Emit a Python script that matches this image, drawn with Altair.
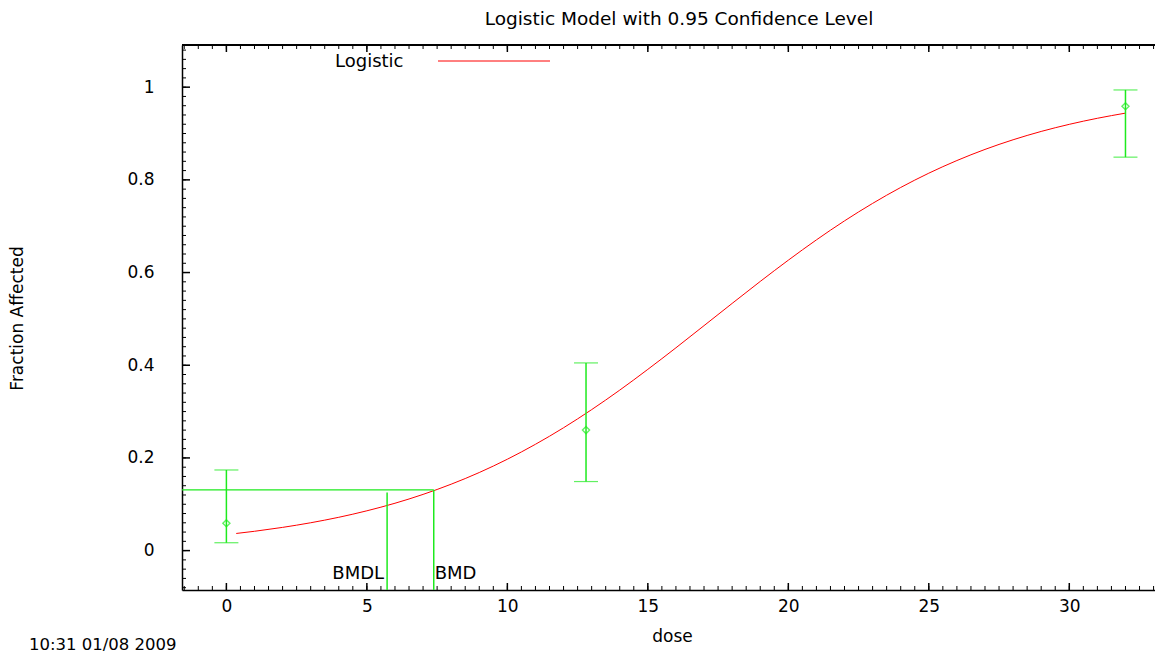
import altair as alt
import pandas as pd

# ---- data ----
obs_dose = [0.0, 12.8, 32.0]
obs_mean = [0.059, 0.260, 0.959]
obs_lo = [0.017, 0.149, 0.849]
obs_hi = [0.174, 0.405, 0.994]

curve_dose = [0.35, 1, 2, 3, 4, 5, 6, 7, 8, 9, 10, 11, 12, 13, 14, 15, 16,
              17, 18, 19, 20, 21, 22, 23, 24, 25, 26, 27, 28, 29, 30, 31, 32]
curve_frac = [0.037, 0.0417, 0.0501, 0.0601, 0.0719, 0.0859, 0.1022, 0.1213,
              0.1433, 0.1685, 0.1972, 0.2294, 0.2651, 0.3042, 0.3463, 0.3911,
              0.4376, 0.4854, 0.5334, 0.5808, 0.6267, 0.6705, 0.7115, 0.7492,
              0.7836, 0.8144, 0.8417, 0.8657, 0.8865, 0.9045, 0.9198, 0.9329,
              0.9440]

bmd = 7.38
bmdl = 5.72
bmr_level = 0.131
bmdl_top = 0.1255

x_labels = [0, 5, 10, 15, 20, 25, 30]
y_labels = [0, 0.2, 0.4, 0.6, 0.8, 1.0]
x_minor = [i * 0.5 for i in range(-3, 67)]
y_minor = [round(i * 0.02, 2) for i in range(-4, 55)]

XDOM = [-1.58, 33.3]
YDOM = [-0.085, 1.091]
W, H = 980, 545
FONT = "DejaVu Sans"
GREEN = "#1eea1e"

xs = alt.Scale(domain=XDOM, nice=False, zero=False)
ys = alt.Scale(domain=YDOM, nice=False, zero=False)

obs = pd.DataFrame({"dose": obs_dose, "mean": obs_mean, "lo": obs_lo, "hi": obs_hi})
curve = pd.DataFrame({"dose": curve_dose, "frac": curve_frac})
xmaj = pd.DataFrame({"v": x_labels})
xmin = pd.DataFrame({"v": x_minor})
ymaj = pd.DataFrame({"v": y_labels})
ymin = pd.DataFrame({"v": y_minor})

base = alt.Chart(curve).mark_line(color="#ff0000", strokeWidth=1, interpolate="monotone").encode(
    x=alt.X("dose:Q", scale=xs,
            axis=alt.Axis(values=x_labels, ticks=False, grid=False, title="dose",
                          labelFont=FONT, labelFontSize=17, labelColor="black",
                          labelPadding=8, domainColor="black", domainWidth=1.5,
                          titleFont=FONT, titleFontSize=17, titleFontWeight="normal",
                          titleColor="black", titleY=46, titleBaseline="middle")),
    y=alt.Y("frac:Q", scale=ys,
            axis=alt.Axis(values=y_labels, format="~g", ticks=False, grid=False,
                          title="Fraction Affected",
                          labelFont=FONT, labelFontSize=17, labelColor="black",
                          labelPadding=28, domainColor="black", domainWidth=1.5,
                          titleFont=FONT, titleFontSize=17, titleFontWeight="normal",
                          titleColor="black", titleAngle=270, titleX=-165, titleY=273,
                          titleAlign="center", titleBaseline="middle")),
)

top_line = alt.Chart(xmaj).mark_rule(color="black", strokeWidth=1.5).encode(
    x=alt.value(0), x2=alt.value(W), y=alt.value(0))

xt_top_min = alt.Chart(xmin).mark_rule(color="black", strokeWidth=1).encode(
    x=alt.X("v:Q", scale=xs), y=alt.value(0), y2=alt.value(4))
xt_top_maj = alt.Chart(xmaj).mark_rule(color="black", strokeWidth=1.5).encode(
    x=alt.X("v:Q", scale=xs), y=alt.value(0), y2=alt.value(7))
xt_bot_min = alt.Chart(xmin).mark_rule(color="black", strokeWidth=1).encode(
    x=alt.X("v:Q", scale=xs), y=alt.value(H), y2=alt.value(H - 4))
xt_bot_maj = alt.Chart(xmaj).mark_rule(color="black", strokeWidth=1.5).encode(
    x=alt.X("v:Q", scale=xs), y=alt.value(H), y2=alt.value(H - 7))
yt_min = alt.Chart(ymin).mark_rule(color="black", strokeWidth=1).encode(
    y=alt.Y("v:Q", scale=ys), x=alt.value(0), x2=alt.value(4))
yt_maj = alt.Chart(ymaj).mark_rule(color="black", strokeWidth=1.5).encode(
    y=alt.Y("v:Q", scale=ys), x=alt.value(0), x2=alt.value(8))

ebar = alt.Chart(obs).mark_rule(color=GREEN, strokeWidth=1.5).encode(
    x=alt.X("dose:Q", scale=xs), y=alt.Y("lo:Q", scale=ys), y2="hi:Q")
cap_lo = alt.Chart(obs).mark_tick(color=GREEN, orient="horizontal", size=24, thickness=1.2).encode(
    x=alt.X("dose:Q", scale=xs), y=alt.Y("lo:Q", scale=ys))
cap_hi = alt.Chart(obs).mark_tick(color=GREEN, orient="horizontal", size=24, thickness=1.2).encode(
    x=alt.X("dose:Q", scale=xs), y=alt.Y("hi:Q", scale=ys))
pts = alt.Chart(obs).mark_point(color=GREEN, shape="diamond", filled=False, size=50, strokeWidth=1.4).encode(
    x=alt.X("dose:Q", scale=xs), y=alt.Y("mean:Q", scale=ys))

bmd_df = pd.DataFrame({"x0": [XDOM[0]], "x1": [bmd], "y": [bmr_level]})
hline = alt.Chart(bmd_df).mark_rule(color=GREEN, strokeWidth=1.3).encode(
    x=alt.X("x0:Q", scale=xs), x2="x1:Q", y=alt.Y("y:Q", scale=ys))
vl_df = pd.DataFrame({"x": [bmdl, bmd], "y0": [YDOM[0], YDOM[0]], "y1": [bmdl_top, bmr_level]})
vlines = alt.Chart(vl_df).mark_rule(color=GREEN, strokeWidth=1.5).encode(
    x=alt.X("x:Q", scale=xs), y=alt.Y("y0:Q", scale=ys), y2="y1:Q")
lab_df = pd.DataFrame({"x": [bmdl], "t": ["BMDL"]})
lab_df2 = pd.DataFrame({"x": [bmd], "t": ["BMD"]})
bmdl_txt = alt.Chart(lab_df).mark_text(font=FONT, fontSize=18, align="right", baseline="middle", dx=-3, color="black").encode(
    x=alt.X("x:Q", scale=xs), y=alt.value(529), text="t:N")
bmd_txt = alt.Chart(lab_df2).mark_text(font=FONT, fontSize=18, align="left", baseline="middle", dx=1, color="black").encode(
    x=alt.X("x:Q", scale=xs), y=alt.value(529), text="t:N")

leg_txt = alt.Chart(pd.DataFrame({"t": ["Logistic"]})).mark_text(
    font=FONT, fontSize=18, align="left", baseline="middle", color="black").encode(
    x=alt.value(153), y=alt.value(17), text="t:N")
leg_line = alt.Chart(pd.DataFrame({"t": ["Logistic"]})).mark_rule(color="#ff0000", strokeWidth=1).encode(
    x=alt.value(256), x2=alt.value(368), y=alt.value(16))

title_txt = alt.Chart(pd.DataFrame({"t": ["Logistic Model with 0.95 Confidence Level"]})).mark_text(
    font=FONT, fontSize=18.5, align="center", baseline="middle", color="black").encode(
    x=alt.value(497), y=alt.value(-26), text="t:N")
stamp_txt = alt.Chart(pd.DataFrame({"t": ["10:31 01/08 2009"]})).mark_text(
    font=FONT, fontSize=16.5, align="left", baseline="middle", color="black").encode(
    x=alt.value(-153), y=alt.value(600), text="t:N")

chart = alt.layer(
    base, top_line, xt_top_min, xt_top_maj, xt_bot_min, xt_bot_maj, yt_min, yt_maj,
    hline, vlines, ebar, cap_lo, cap_hi, pts, bmdl_txt, bmd_txt, leg_txt, leg_line,
    title_txt, stamp_txt,
).properties(
    width=W, height=H,
    autosize=alt.AutoSizeParams(type="none"),
    padding={"left": 174, "top": 37, "right": -7, "bottom": 63},
).configure_view(stroke=None).configure(background="white")

chart.save("out.html", embed_options={"renderer": "svg", "actions": False})
